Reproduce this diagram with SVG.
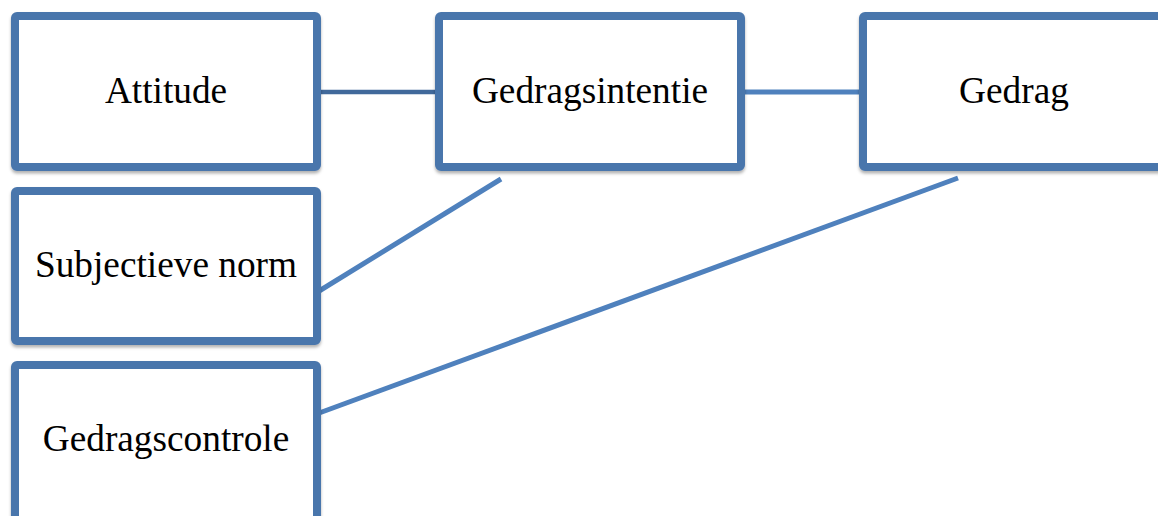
<svg xmlns="http://www.w3.org/2000/svg" width="1158" height="516" viewBox="0 0 1158 516">
  <style>
    .box { fill: #ffffff; stroke: #4a76ac; stroke-width: 8; filter: url(#shadow); }
    .label { font-family: "Liberation Serif", "Times New Roman", serif; font-size: 37.3px; fill: #000000; text-anchor: middle; }
    .link { fill: none; stroke: #4f81bd; stroke-width: 5; }
    .link-dark { stroke: #41699b; stroke-width: 4.5; }
  </style>
  <defs>
    <filter id="shadow" x="-5%" y="-5%" width="110%" height="115%">
      <feDropShadow dx="0" dy="2.5" stdDeviation="1.5" flood-color="#000000" flood-opacity="0.3"/>
    </filter>
  </defs>

  <!-- connectors -->
  <g id="connectors">
    <line class="link link-dark" x1="319" y1="92" x2="437" y2="92"/>
    <line class="link" x1="743" y1="92" x2="861" y2="92"/>
    <line class="link" x1="501" y1="179" x2="311" y2="296"/>
    <line class="link" x1="958" y1="178" x2="311" y2="416"/>
  </g>

  <g id="attitude">
    <rect class="box" x="15" y="16" width="302" height="151" rx="2"/>
    <text class="label" x="166" y="103">Attitude</text>
  </g>

  <g id="gedragsintentie">
    <rect class="box" x="439" y="16" width="302" height="151" rx="2"/>
    <text class="label" x="590" y="103">Gedragsintentie</text>
  </g>

  <g id="gedrag">
    <rect class="box" x="863" y="16" width="302" height="151" rx="2"/>
    <text class="label" x="1014" y="103">Gedrag</text>
  </g>

  <g id="subjectieve-norm">
    <rect class="box" x="15" y="191" width="302" height="150" rx="2"/>
    <text class="label" x="166" y="277">Subjectieve norm</text>
  </g>

  <g id="gedragscontrole">
    <rect class="box" x="15" y="365" width="302" height="160" rx="2"/>
    <text class="label" x="166" y="451">Gedragscontrole</text>
  </g>
</svg>
